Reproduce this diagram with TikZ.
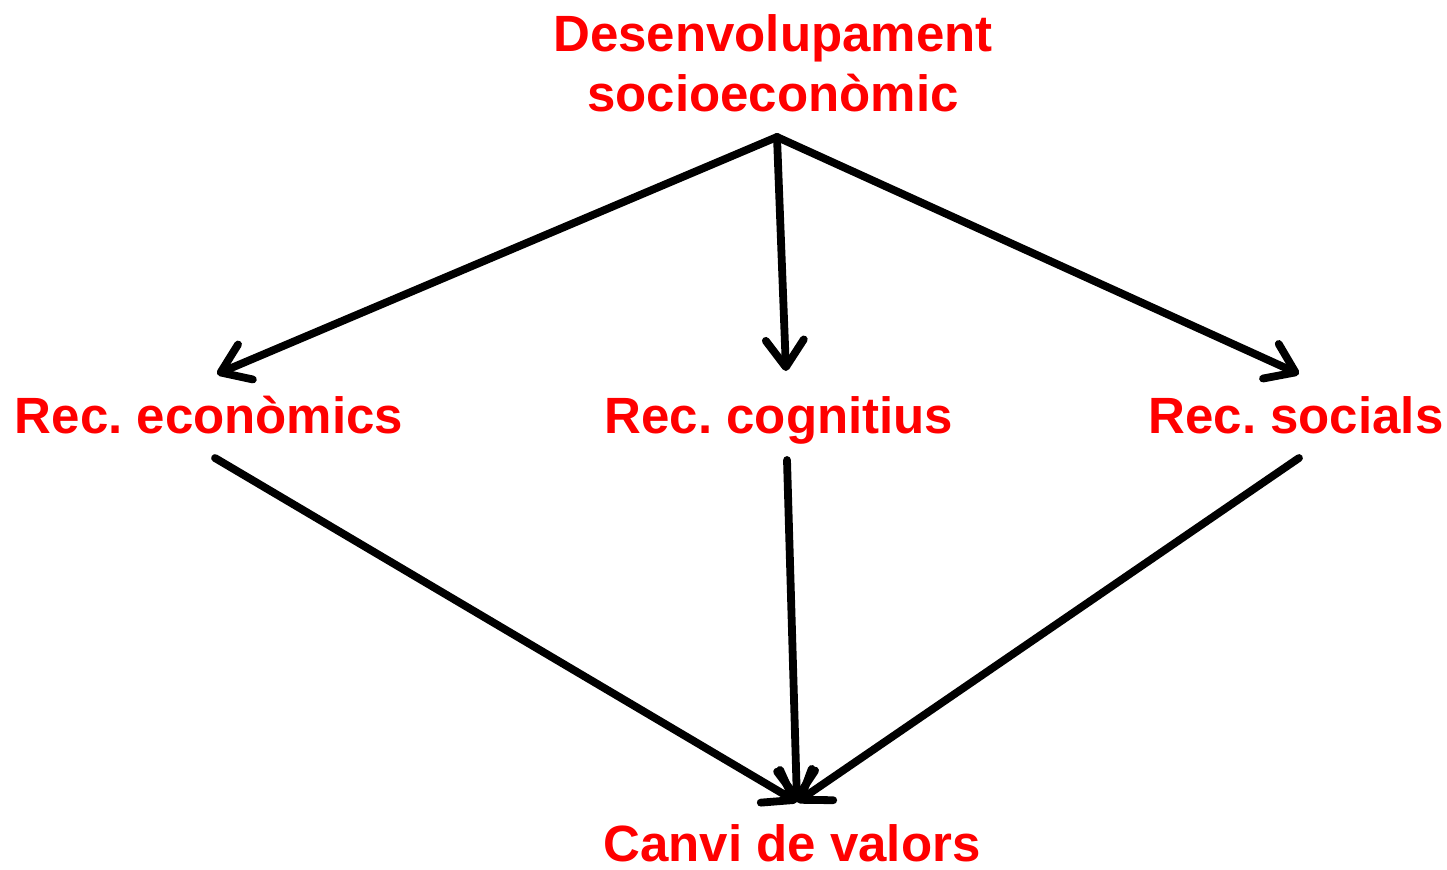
\documentclass[tikz,border=0pt]{standalone}
\usepackage{fontspec}
\setmainfont{Liberation Sans}
\frenchspacing
\usetikzlibrary{arrows.meta}
\definecolor{lblred}{RGB}{255,0,0}
\begin{document}
\begin{tikzpicture}[x=0.5pt,y=-0.5pt,
  lbl/.style={text=lblred,font=\bfseries\fontsize{25.5pt}{30pt}\selectfont,inner sep=0pt,align=center},
  conn/.style={line width=3.9pt,line cap=round,-{Straight Barb[length=13.5pt,width=19pt,round]}}]
\useasboundingbox (0,0) rectangle (1447,869);
\node[lbl] (top) at (773,63) {Desenvolupament\\socioeconòmic};
\node[lbl,anchor=base] (eco) at (209,433) {Rec. econòmics};
\node[lbl,anchor=base] (cog) at (779,433) {Rec. cognitius};
\node[lbl,anchor=base] (soc) at (1296,433) {Rec. socials};
\node[lbl,anchor=base] (can) at (792,861) {Canvi de valors};
\coordinate (topS) at (777,137);
\coordinate (ecoN) at (217,374);
\coordinate (cogN) at (786,371);
\coordinate (socN) at (1299,374);
\coordinate (ecoS) at (215,458);
\coordinate (cogS) at (787,460);
\coordinate (socS) at (1299,458);
\coordinate (canN) at (797,802);
\draw[conn] (topS) -- (ecoN);
\draw[conn] (topS) -- (cogN);
\draw[conn] (topS) -- (socN);
\draw[conn] (ecoS) -- (canN);
\draw[conn] (cogS) -- (canN);
\draw[conn] (socS) -- (canN);
\end{tikzpicture}
\end{document}
